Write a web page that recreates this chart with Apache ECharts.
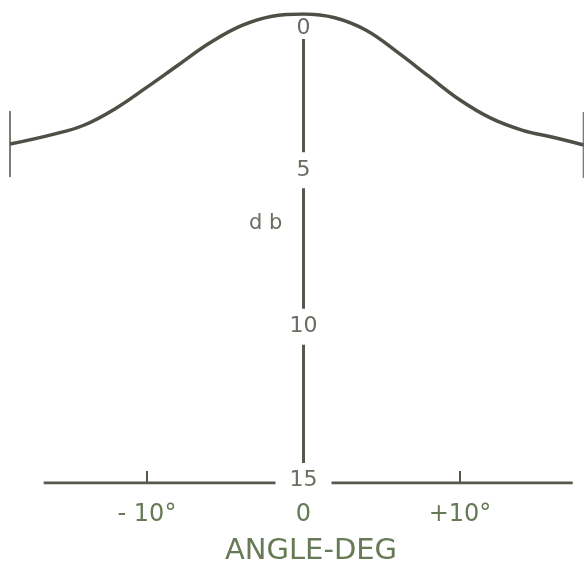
<!DOCTYPE html>
<html>
<head>
<meta charset="utf-8">
<title>Antenna pattern</title>
<script src="https://cdn.jsdelivr.net/npm/echarts@6/dist/echarts.min.js"></script>
<style>
  html, body { margin: 0; padding: 0; background: #fff; }
  #chart { width: 584px; height: 566px; }
</style>
</head>
<body>
<div id="chart"></div>
<script>
// beam pattern
const angles = [-18.75, -16, -14, -12, -10, -8, -6, -4, -2, 0, 2, 4, 6, 8, 10, 12, 14, 16, 17.9];
const dbValues = [4.16, 3.85, 3.55, 3.02, 2.34, 1.63, 0.93, 0.38, 0.07, 0, 0.12, 0.52, 1.22, 1.99, 2.75, 3.34, 3.72, 3.95, 4.19];
const baseSpan = [-16.6, 17.2];   // drawn extent of the angle axis
const xTicks = [-10, 10];
const xLabelValues = [-10, 0, 10];
const xLabels = ['- 10°', '0', '+10°'];
const yLabels = [0, 5, 10, 15];

const lineColor = '#4d5145';
const axisColor = '#55594c';
const textColor = '#6a6d62';
const greenText = '#677a56';

const chart = echarts.init(document.getElementById('chart'));

const curve = angles.map((a, i) => [a, dbValues[i]]);
const ends = [curve[0], curve[curve.length - 1]];
const baseLine = baseSpan.map(a => [a, 15]);

const option = {
  animation: false,
  backgroundColor: '#fff',
  title: {
    text: 'd b',
    left: 244,
    top: 208,
    textStyle: { fontFamily: 'DejaVu Sans', fontSize: 21, fontWeight: 'normal', color: textColor }
  },
  grid: { left: 0, right: 0, top: 14, bottom: 83, containLabel: false, outerBoundsMode: 'none' },
  xAxis: {
    type: 'value',
    min: -19.39,
    max: 17.92,
    z: 0,
    splitLine: { show: false },
    axisLine: { show: false, onZero: false },
    axisTick: { inside: true, length: 12, customValues: xTicks, lineStyle: { color: axisColor, width: 2 } },
    axisLabel: {
      customValues: xLabelValues,
      margin: 20,
      fontFamily: 'DejaVu Sans',
      fontSize: 24,
      color: greenText,
      formatter: v => xLabels[xLabelValues.indexOf(v)]
    },
    name: 'ANGLE-DEG',
    nameLocation: 'middle',
    nameGap: 54,
    nameTextStyle: { fontFamily: 'DejaVu Sans', fontSize: 29, color: greenText, padding: [0, 0, 0, 38] }
  },
  yAxis: {
    type: 'value',
    inverse: true,
    min: 0,
    max: 15,
    interval: 5,
    position: 'left',
    offset: -303.5,
    z: 1,
    splitLine: { show: false },
    axisTick: { show: false },
    axisLine: { onZero: false, lineStyle: { color: axisColor, width: 3 } },
    axisLabel: {
      customValues: yLabels,
      margin: 0,
      align: 'center',
      formatter: v => {
        if (v === 0) return '{top|' + v + '}';
        if (v === 15) return '{bot|' + v + '}';
        return '{mid|' + v + '}';
      },
      rich: {
        top: { fontFamily: 'DejaVu Sans', fontSize: 22, color: textColor, backgroundColor: '#fff', padding: [28, 6, 0, 6] },
        mid: { fontFamily: 'DejaVu Sans', fontSize: 22, color: textColor, backgroundColor: '#fff', padding: [7, 6, 7, 6] },
        bot: { fontFamily: 'DejaVu Sans', fontSize: 22, color: textColor, backgroundColor: '#fff', padding: [6, 14, 12, 14] }
      }
    }
  },
  series: [
    {
      type: 'line',
      data: baseLine,
      showSymbol: false,
      silent: true,
      z: 0,
      lineStyle: { color: axisColor, width: 3 }
    },
    {
      type: 'line',
      data: curve,
      smooth: 0.4,
      showSymbol: false,
      z: 3,
      lineStyle: { color: lineColor, width: 3.5 }
    },
    {
      type: 'scatter',
      data: ends,
      symbol: 'rect',
      symbolSize: [2, 66],
      z: 3,
      itemStyle: { color: '#5a5d52' }
    }
  ]
};

chart.setOption(option);
window.addEventListener('resize', () => chart.resize());
</script>
</body>
</html>
